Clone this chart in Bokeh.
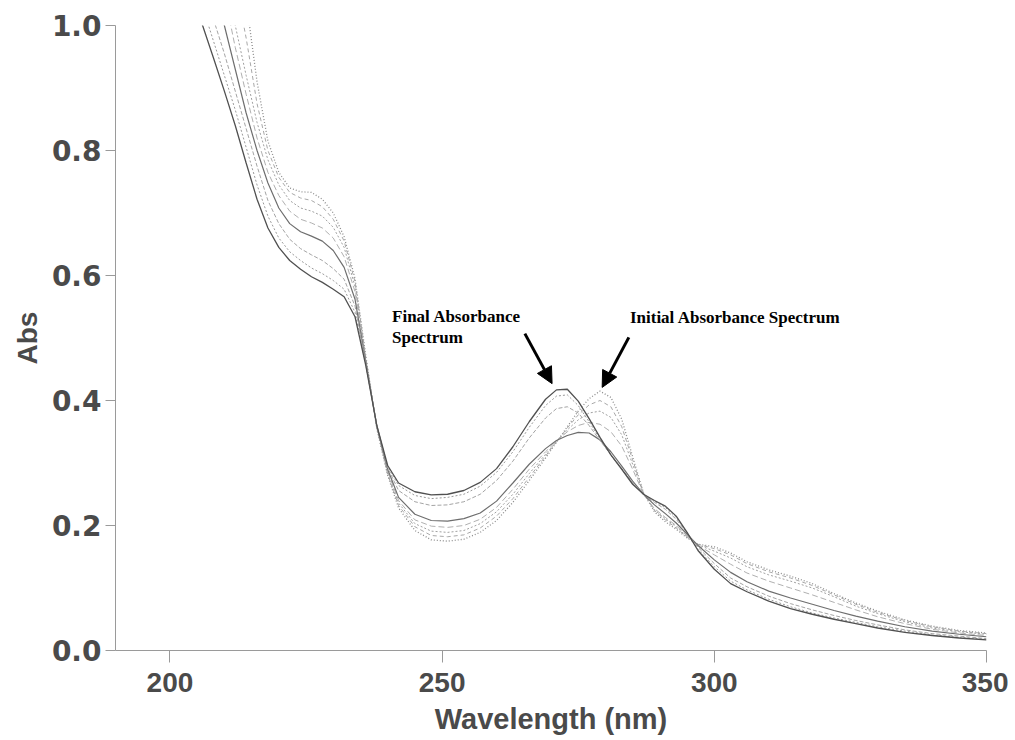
from bokeh.plotting import figure
from bokeh.models import Range1d, FixedTicker, PrintfTickFormatter, Label, Arrow, NormalHead
from bokeh.embed import file_html
from bokeh.resources import INLINE

# Wavelengths (nm)
wavelength = [204, 206, 208, 210, 212, 214, 216, 218, 220, 222, 224, 226, 228, 230, 232, 234,
              236, 238, 240, 242, 245, 248, 251, 254, 257, 260, 263, 266, 269, 271, 273, 275,
              277, 279, 281, 283, 285, 287, 289, 291, 293, 295, 297, 300, 303, 306, 310, 314,
              318, 322, 326, 330, 335, 340, 345, 350]

# Absorbance spectra, from initial (first) to final (last)
abs_initial = [1.75, 1.60, 1.45, 1.30, 1.16, 1.04, 0.91, 0.815, 0.765, 0.740, 0.734, 0.733, 0.722, 0.700, 0.662, 0.595,
               0.470, 0.355, 0.280, 0.228, 0.192, 0.177, 0.175, 0.178, 0.189, 0.208, 0.237, 0.272, 0.308, 0.333, 0.358, 0.383,
               0.403, 0.415, 0.405, 0.370, 0.310, 0.252, 0.222, 0.206, 0.194, 0.180, 0.170, 0.166, 0.156, 0.142, 0.129, 0.119,
               0.107, 0.091, 0.076, 0.063, 0.049, 0.039, 0.032, 0.028]
abs_t1 = [1.55, 1.42, 1.30, 1.18, 1.07, 0.98, 0.875, 0.800, 0.757, 0.733, 0.724, 0.720, 0.710, 0.690, 0.655, 0.590,
          0.468, 0.356, 0.282, 0.232, 0.198, 0.184, 0.182, 0.185, 0.196, 0.215, 0.243, 0.277, 0.311, 0.334, 0.356, 0.377,
          0.393, 0.400, 0.390, 0.358, 0.305, 0.252, 0.224, 0.209, 0.196, 0.181, 0.170, 0.163, 0.153, 0.139, 0.126, 0.116,
          0.104, 0.089, 0.074, 0.061, 0.048, 0.038, 0.031, 0.027]
abs_t2 = [1.40, 1.30, 1.19, 1.09, 1.00, 0.92, 0.845, 0.785, 0.745, 0.720, 0.708, 0.703, 0.695, 0.677, 0.645, 0.582,
          0.465, 0.357, 0.284, 0.236, 0.203, 0.191, 0.189, 0.192, 0.203, 0.222, 0.250, 0.283, 0.314, 0.334, 0.353, 0.369,
          0.380, 0.383, 0.373, 0.345, 0.298, 0.251, 0.225, 0.211, 0.198, 0.182, 0.169, 0.159, 0.148, 0.134, 0.121, 0.111,
          0.100, 0.086, 0.071, 0.059, 0.046, 0.036, 0.030, 0.026]
abs_t3 = [1.32, 1.23, 1.14, 1.05, 0.965, 0.89, 0.82, 0.765, 0.728, 0.703, 0.690, 0.684, 0.676, 0.660, 0.630, 0.574,
          0.462, 0.358, 0.287, 0.240, 0.209, 0.199, 0.197, 0.200, 0.210, 0.229, 0.258, 0.290, 0.318, 0.335, 0.350, 0.360,
          0.365, 0.362, 0.350, 0.327, 0.290, 0.250, 0.227, 0.213, 0.200, 0.183, 0.168, 0.153, 0.138, 0.124, 0.111, 0.100,
          0.089, 0.077, 0.065, 0.054, 0.043, 0.034, 0.028, 0.024]
abs_t4 = [1.20, 1.13, 1.06, 1.00, 0.93, 0.86, 0.80, 0.748, 0.708, 0.683, 0.670, 0.663, 0.655, 0.640, 0.613, 0.562,
          0.460, 0.360, 0.290, 0.245, 0.218, 0.208, 0.207, 0.211, 0.220, 0.239, 0.268, 0.298, 0.323, 0.336, 0.344, 0.349,
          0.348, 0.337, 0.318, 0.295, 0.271, 0.250, 0.233, 0.219, 0.204, 0.186, 0.168, 0.145, 0.125, 0.110, 0.095, 0.084,
          0.074, 0.064, 0.055, 0.047, 0.038, 0.031, 0.026, 0.022]
abs_t5 = [1.12, 1.06, 1.01, 0.955, 0.895, 0.835, 0.775, 0.720, 0.683, 0.658, 0.643, 0.633, 0.624, 0.611, 0.594, 0.551,
          0.458, 0.360, 0.292, 0.256, 0.238, 0.232, 0.233, 0.238, 0.250, 0.272, 0.303, 0.340, 0.372, 0.387, 0.390, 0.380,
          0.360, 0.336, 0.313, 0.291, 0.269, 0.250, 0.237, 0.226, 0.210, 0.188, 0.165, 0.139, 0.116, 0.102, 0.087, 0.075,
          0.065, 0.056, 0.048, 0.041, 0.033, 0.027, 0.023, 0.019]
abs_t6 = [1.09, 1.03, 0.975, 0.92, 0.865, 0.805, 0.745, 0.695, 0.660, 0.638, 0.624, 0.612, 0.603, 0.592, 0.578, 0.541,
          0.456, 0.360, 0.294, 0.264, 0.248, 0.243, 0.245, 0.250, 0.263, 0.285, 0.318, 0.357, 0.392, 0.407, 0.409, 0.392,
          0.366, 0.338, 0.312, 0.290, 0.267, 0.250, 0.239, 0.229, 0.213, 0.188, 0.162, 0.134, 0.111, 0.097, 0.082, 0.070,
          0.060, 0.052, 0.045, 0.038, 0.031, 0.025, 0.021, 0.018]
abs_final = [1.06, 1.00, 0.948, 0.895, 0.840, 0.780, 0.722, 0.676, 0.645, 0.624, 0.610, 0.598, 0.589, 0.578, 0.566, 0.534,
             0.455, 0.360, 0.296, 0.268, 0.254, 0.249, 0.250, 0.256, 0.269, 0.291, 0.326, 0.366, 0.402, 0.417, 0.418, 0.399,
             0.371, 0.341, 0.313, 0.290, 0.266, 0.250, 0.240, 0.231, 0.215, 0.189, 0.160, 0.130, 0.107, 0.094, 0.079, 0.067,
             0.058, 0.050, 0.043, 0.036, 0.029, 0.024, 0.020, 0.017]

spectra = [abs_initial, abs_t1, abs_t2, abs_t3, abs_t4, abs_t5, abs_t6, abs_final]
styles = [
    dict(line_color="#8c8c8c", line_dash="1 2", line_width=1.3),
    dict(line_color="#a8a8a8", line_dash="4 3", line_width=1.0),
    dict(line_color="#a0a0a0", line_dash="2 2", line_width=1.0),
    dict(line_color="#b0b0b0", line_dash="6 3", line_width=1.0),
    dict(line_color="#6e6e6e", line_dash="solid", line_width=1.2),
    dict(line_color="#a4a4a4", line_dash="4 2", line_width=1.0),
    dict(line_color="#9a9a9a", line_dash="2 2", line_width=1.0),
    dict(line_color="#505050", line_dash="solid", line_width=1.3),
]

x_ticks = [200, 250, 300, 350]
y_ticks = [0.0, 0.2, 0.4, 0.6, 0.8, 1.0]

p = figure(width=1008, height=738, output_backend="svg", toolbar_location=None,
           x_range=Range1d(190, 350), y_range=Range1d(0, 1.0))
p.min_border_left = 115
p.min_border_right = 22
p.min_border_top = 25
p.min_border_bottom = 88
p.outline_line_color = None
p.xgrid.visible = False
p.ygrid.visible = False
p.background_fill_color = "white"
p.border_fill_color = "white"

for ys, st in zip(spectra, styles):
    p.line(wavelength, ys, **st)

axis_col = "#9a9a9a"
text_col = "#4a4a4a"

p.xaxis.ticker = FixedTicker(ticks=x_ticks)
p.yaxis.ticker = FixedTicker(ticks=y_ticks)
p.yaxis.formatter = PrintfTickFormatter(format="%.1f")
for ax in (p.xaxis[0], p.yaxis[0]):
    ax.axis_line_color = axis_col
    ax.major_tick_line_color = axis_col
    ax.minor_tick_line_color = None
    ax.major_tick_in = 0
    ax.major_label_text_color = text_col
    ax.major_label_text_font_style = "bold"
    ax.axis_label_text_color = text_col
    ax.axis_label_text_font_style = "bold"
    ax.axis_label_text_font = "Liberation Sans"

p.xaxis.major_tick_out = 12
p.yaxis.major_tick_out = 10
p.xaxis.major_label_text_font = "Liberation Sans"
p.xaxis.major_label_text_font_size = "28px"
p.xaxis.major_label_standoff = 10
p.yaxis.major_label_text_font = "DejaVu Sans"
p.yaxis.major_label_text_font_size = "28px"
p.yaxis.major_label_standoff = 4
p.xaxis.axis_label = "Wavelength (nm)"
p.yaxis.axis_label = "Abs"
p.xaxis.axis_label_text_font_size = "29px"
p.yaxis.axis_label_text_font_size = "28px"
p.xaxis.axis_label_standoff = 8
p.yaxis.axis_label_standoff = 6

# Annotations
ann_font = "Liberation Serif"
for txt, lx, ly in [("Final Absorbance", 240.8, 0.52), ("Spectrum", 240.8, 0.486),
                    ("Initial Absorbance Spectrum", 284.5, 0.518)]:
    p.add_layout(Label(x=lx, y=ly, text=txt, text_font=ann_font, text_font_style="bold",
                       text_font_size="17px", text_color="black"))

for (x0, y0, x1, y1) in [(265.2, 0.507, 270.2, 0.427), (284.3, 0.501, 279.4, 0.421)]:
    p.add_layout(Arrow(end=NormalHead(size=16, fill_color="black", line_color="black"),
                       x_start=x0, y_start=y0, x_end=x1, y_end=y1,
                       line_color="black", line_width=3))

open("out.html", "w").write(file_html(p, INLINE))
